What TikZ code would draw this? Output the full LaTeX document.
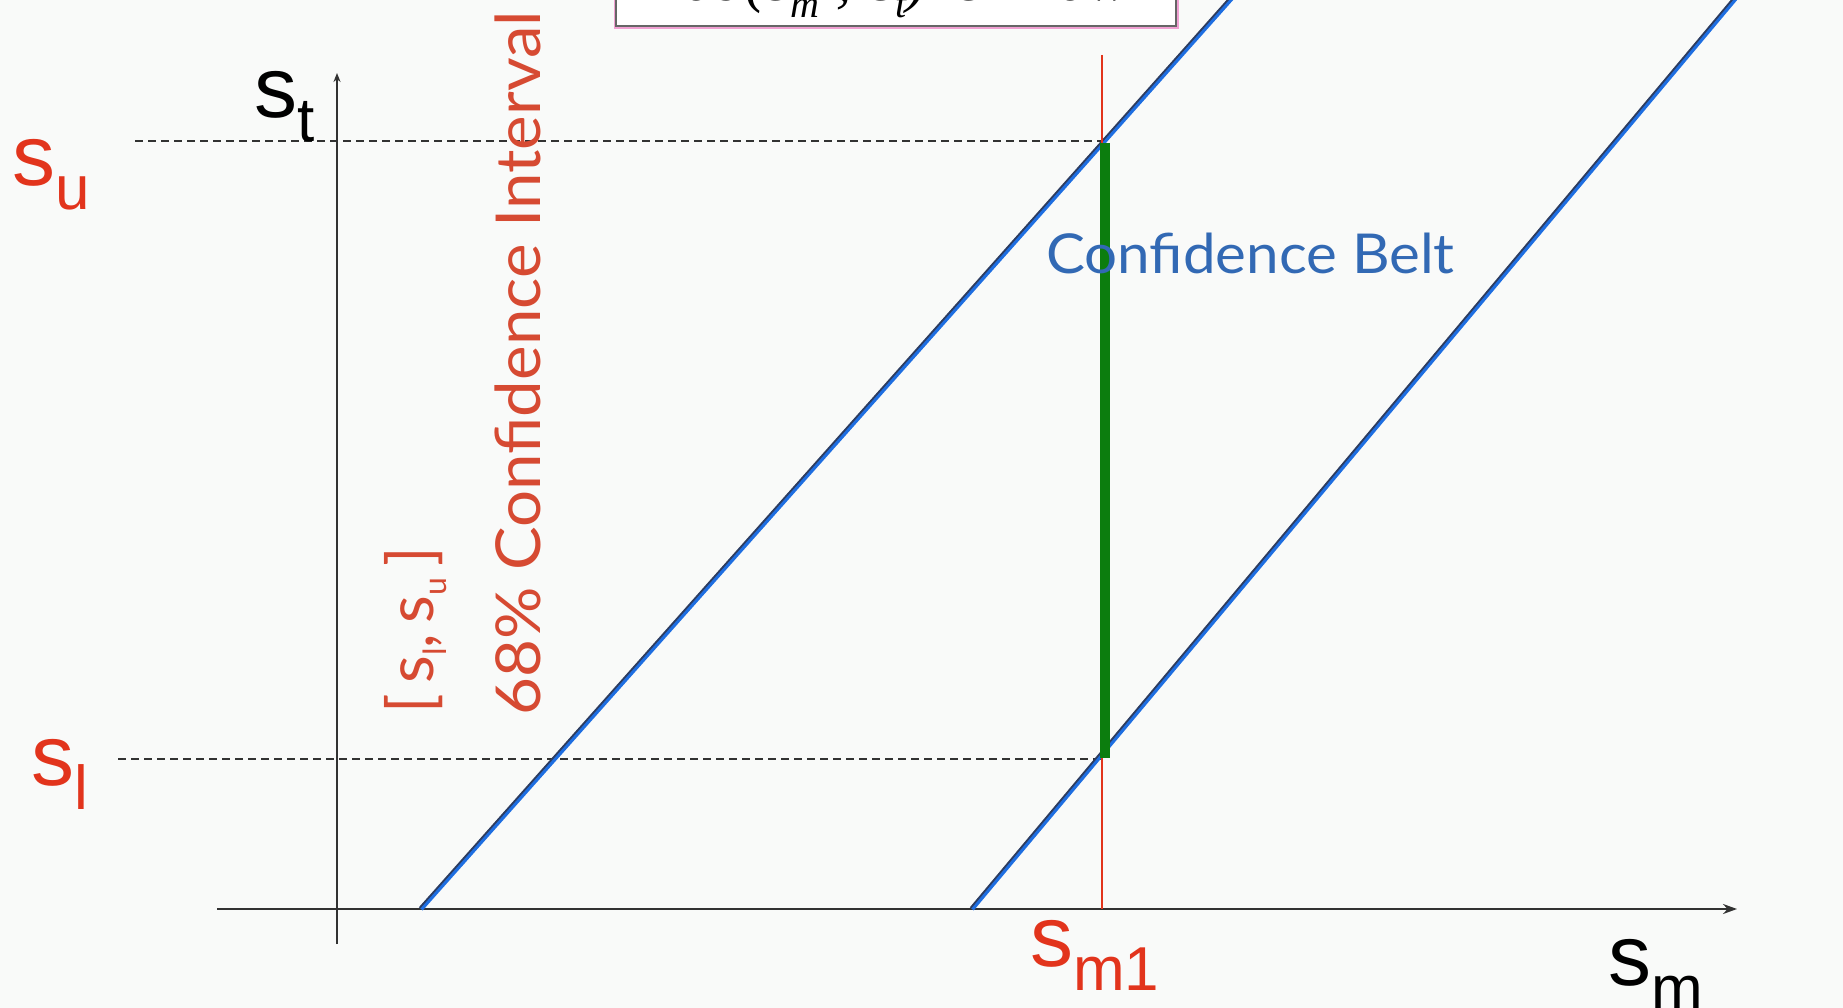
\documentclass[tikz,border=0pt]{standalone}
\usepackage{fontspec}
\setmainfont{Liberation Serif}
\newfontfamily\arialf{Liberation Sans}
\newfontfamily\handf{Lato}
\usetikzlibrary{arrows.meta}
\definecolor{bg}{RGB}{249,250,249}
\definecolor{labred}{RGB}{226,52,28}
\definecolor{txtred}{RGB}{214,74,50}
\definecolor{beltblue}{RGB}{30,110,225}
\definecolor{beltcore}{RGB}{45,60,95}
\definecolor{axgray}{RGB}{50,50,50}
\definecolor{cgreen}{RGB}{12,125,14}
\definecolor{beltlabel}{RGB}{50,105,180}
\definecolor{boxpink}{RGB}{240,160,210}
\newcommand{\axlab}[2]{{\arialf\fontsize{86}{86}\selectfont #1\raisebox{-24pt}{\fontsize{62}{62}\selectfont #2}}}
\tikzset{
  axisline/.style={draw=axgray, line width=2pt},
  belt/.style={draw=beltblue, line width=4.5pt},
  beltedge/.style={draw=beltcore, line width=1.8pt},
  guide/.style={draw=axgray, line width=1.5pt, dash pattern=on 8pt off 5pt},
  redlab/.style={text=labred, inner sep=0pt},
  blacklab/.style={text=black, inner sep=0pt},
  rottext/.style={text=txtred, inner sep=0pt, rotate=90, anchor=base west},
}
\begin{document}
\begin{tikzpicture}[x={(1pt,0pt)}, y={(0pt,-1pt)}]
\useasboundingbox (0,0) rectangle (1843,1008);
\clip (0,0) rectangle (1843,1008);
\fill[bg] (0,0) rectangle (1843,1008);

% coordinates
\coordinate (yaxB) at (337,944);
\coordinate (yaxT) at (337,73);
\coordinate (xaxL) at (217,909);
\coordinate (xaxR) at (1737,909);
\coordinate (b1a) at (421,909);
\coordinate (b1b) at (1248,-20);
\coordinate (b2a) at (972,909);
\coordinate (b2b) at (1751,-20);
\coordinate (suL) at (135,141);
\coordinate (suR) at (1104,141);
\coordinate (slL) at (118,759);
\coordinate (slR) at (1104,759);
\coordinate (smT) at (1102,55);
\coordinate (smB) at (1102,909);
\coordinate (gT) at (1105,143);
\coordinate (gB) at (1105,758);

% top box (cropped at the top edge, as in the reference)
\draw[boxpink, line width=5pt] (616,-60) rectangle (1176,27);
\draw[fill=white, draw=gray!80!black, line width=1.5pt] (616,-60) rectangle (1176,26);
\node[anchor=base west, inner sep=0pt] (topbox) at (624,1)
  {\fontsize{62}{62}\selectfont\itshape Prob(s\raisebox{-17pt}{\fontsize{40}{40}\selectfont m} ; s\raisebox{-17pt}{\fontsize{40}{40}\selectfont t}) is known};

% guides
\draw[guide] (suL) -- (suR);
\draw[guide] (slL) -- (slR);

% axes
\draw[axisline, -{Stealth[length=9pt,width=7pt]}] (yaxB) -- (yaxT);
\draw[axisline, -{Stealth[length=14pt,width=10pt]}] (xaxL) -- (xaxR);

% belt lines
\draw[belt] (b1a) -- (b1b);
\draw[belt] (b2a) -- (b2b);
\draw[beltedge] ([xshift=-1.4pt,yshift=1.2pt]b1a) -- ([xshift=-1.4pt,yshift=1.2pt]b1b);
\draw[beltedge] ([xshift=-1.4pt,yshift=1.2pt]b2a) -- ([xshift=-1.4pt,yshift=1.2pt]b2b);

% red measured line
\draw[labred, line width=1.3pt] (smT) -- (smB);

% green interval
\draw[cgreen, line width=10pt] (gT) -- (gB);

% labels
\node[blacklab, anchor=base west] (st) at (254,118) {\axlab{s}{t}};
\node[redlab, anchor=base west] (su) at (12,186) {\axlab{s}{u}};
\node[redlab, anchor=base west] (sl) at (31,785) {\axlab{s}{l}};
\node[redlab, anchor=base west] (sm1) at (1030,966) {\axlab{s}{m1}};
\node[blacklab, anchor=base west] (sm) at (1608,985) {\axlab{s}{m}};

\node[rottext] (ci) at (540,716)
  {\handf\fontsize{62}{62}\selectfont\scalebox{1.055}[1]{68\% Confidence Interval}};
\node[rottext] (slsu) at (433,714)
  {\handf\fontsize{64}{64}\selectfont [\,s\raisebox{-13pt}{\fontsize{32}{32}\selectfont l},\,s\raisebox{-13pt}{\fontsize{32}{32}\selectfont u}\,]};

\node[anchor=base west, inner sep=0pt, text=beltlabel] (beltlab) at (1046,273)
  {\handf\fontsize{55}{55}\selectfont\scalebox{1.06}[1]{Confidence Belt}};
\end{tikzpicture}
\end{document}
